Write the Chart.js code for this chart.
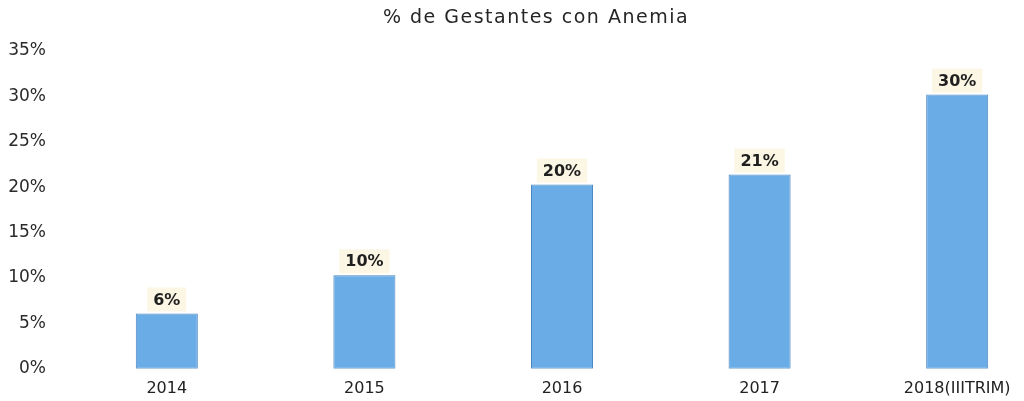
<!DOCTYPE html>
<html>
<head>
<meta charset="utf-8">
<script src="https://cdn.jsdelivr.net/npm/chart.js@4.4.0/dist/chart.umd.min.js"></script>
<style>
  html, body { margin: 0; padding: 0; background: #ffffff; overflow: hidden; }
  #wrap { position: relative; width: 1060px; height: 401px; }
</style>
</head>
<body>
<div id="wrap"><canvas id="c"></canvas></div>
<script>
const titleText = '% de Gestantes con Anemia';
const categories = ['2014', '2015', '2016', '2017', '2018(IIITRIM)'];
const anemiaValues = [6.1, 10.3, 20.3, 21.4, 30.2];
const dataLabels = ['6%', '10%', '20%', '21%', '30%'];
const yTickValues = [0, 5, 10, 15, 20, 25, 30, 35];

const FONT = "'DejaVu Sans', Verdana, sans-serif";

const titlePlugin = {
  id: 'customTitle',
  afterDraw(chart) {
    const ctx = chart.ctx;
    ctx.save();
    ctx.font = '19px ' + FONT;
    if ('letterSpacing' in ctx) ctx.letterSpacing = '1.5px';
    ctx.fillStyle = '#262626';
    ctx.textAlign = 'center';
    ctx.textBaseline = 'middle';
    ctx.fillText(titleText, 536, 18);
    ctx.restore();
  }
};

const labelPlugin = {
  id: 'barLabels',
  afterDatasetsDraw(chart) {
    const ctx = chart.ctx;
    const meta = chart.getDatasetMeta(0);
    ctx.save();
    ctx.font = '600 16px ' + FONT;
    ctx.textAlign = 'center';
    ctx.textBaseline = 'middle';
    meta.data.forEach((bar, i) => {
      const txt = dataLabels[i];
      const w = ctx.measureText(txt).width + 12;
      const top = bar.y;
      ctx.fillStyle = '#fcf6e4';
      ctx.fillRect(bar.x - w / 2, top - 26, w, 24);
      ctx.fillStyle = '#1f1f1f';
      ctx.fillText(txt, bar.x, top - 13);
    });
    ctx.restore();
  }
};

new Chart(document.getElementById('c'), {
  type: 'bar',
  data: {
    labels: categories,
    datasets: [{
      data: anemiaValues,
      backgroundColor: '#6aace6',
      borderColor: '#4a86c2',
      borderWidth: 1,
      borderSkipped: false,
      barPercentage: 0.314,
      categoryPercentage: 1.0
    }]
  },
  options: {
    responsive: true,
    maintainAspectRatio: false,
    animation: false,
    layout: { padding: { top: 51, bottom: 1, left: 0, right: 4 } },
    plugins: {
      legend: { display: false },
      title: { display: false },
      tooltip: { enabled: false }
    },
    scales: {
      x: {
        afterFit(scale) { scale.height = 29; },
        grid: { display: false, drawTicks: false },
        border: { display: false },
        ticks: {
          color: '#222222',
          font: { family: FONT, size: 16 },
          padding: 10,
          maxRotation: 0,
          autoSkip: false
        }
      },
      y: {
        min: 0,
        max: 35,
        afterBuildTicks(scale) {
          scale.ticks = yTickValues.map(v => ({ value: v }));
        },
        afterFit(scale) { scale.width = 68; },
        grid: { display: false, drawTicks: false },
        border: { display: false },
        ticks: {
          color: '#2a2a2a',
          font: { family: FONT, size: 17 },
          padding: 22,
          callback: v => v + '%'
        }
      }
    }
  },
  plugins: [titlePlugin, labelPlugin]
});
</script>
</body>
</html>
